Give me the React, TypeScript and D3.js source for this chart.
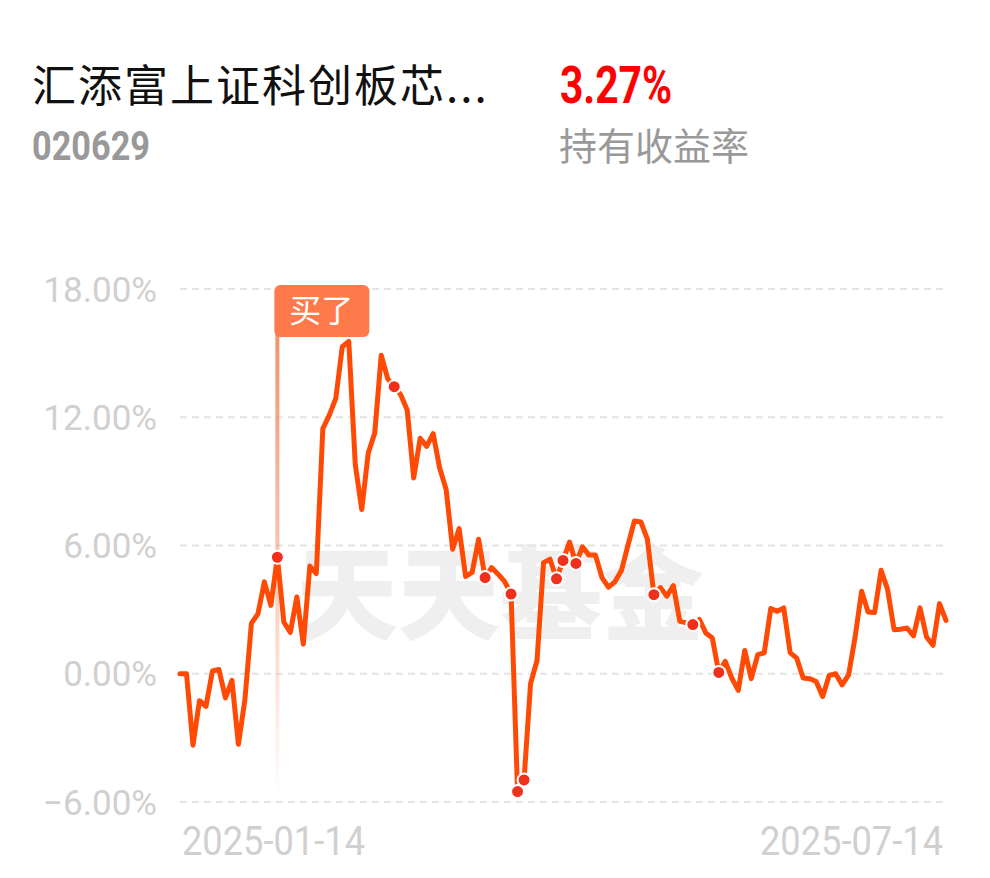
import { useEffect, useRef } from "react";
import * as d3 from "d3";

// holding return (%) per trading day
const returns: number[] = [
  0.0, 0.0, -3.34, -1.26, -1.53, 0.13, 0.2, -1.13, -0.31, -3.3,
  -1.21, 2.36, 2.8, 4.3, 3.2, 5.45, 2.41, 1.94, 3.59, 1.39,
  5.04, 4.69, 11.46, 12.1, 12.88, 15.3, 15.55, 9.8, 7.68, 10.33,
  11.26, 14.9, 13.8, 13.43, 13.05, 12.34, 9.16, 11.02, 10.64, 11.23,
  9.63, 8.62, 5.82, 6.79, 4.55, 4.74, 6.29, 4.5, 4.97, 4.66,
  4.32, 3.73, -5.51, -4.97, -0.47, 0.62, 5.2, 5.36, 4.44, 5.3,
  6.16, 5.16, 5.94, 5.55, 5.55, 4.5, 4.05, 4.3, 4.83, 6.0,
  7.15, 7.1, 6.3, 3.7, 4.03, 3.63, 4.12, 2.45, 2.38, 2.3,
  2.54, 1.91, 1.67, 0.06, 0.58, -0.2, -0.78, 1.09, -0.23, 0.89,
  0.98, 3.05, 2.92, 3.08, 0.98, 0.73, -0.2, -0.23, -0.36, -1.06,
  -0.08, 0.0, -0.52, -0.05, 1.72, 3.86, 2.89, 2.86, 4.84, 3.95,
  2.06, 2.08, 2.14, 1.77, 3.08, 1.72, 1.33, 3.28, 2.5,
];

// indices of the days with a trade dot
const tradeDays: number[] = [15, 33, 47, 51, 52, 53, 58, 59, 61, 73, 79, 83];
const buyDay = 15;

const yTicks: number[] = [18, 12, 6, 0, -6];
const xLabels: string[] = ["2025-01-14", "2025-07-14"];

const fundName = "汇添富上证科创板芯...";
const fundCode = "020629";
const holdReturn = "3.27%";
const holdLabel = "持有收益率";

const App = () => {
  const svgRef = useRef<SVGSVGElement | null>(null);

  useEffect(() => {
    if (!svgRef.current) return;
    const width = 990;
    const height = 878;
    const left = 180;
    const right = 946;

    const svg = d3.select(svgRef.current);
    svg.selectAll("*").remove();
    svg.attr("width", width).attr("height", height);

    const x = d3.scaleLinear().domain([0, returns.length - 1]).range([left, right]);
    const y = d3.scaleLinear().domain([-6, 18]).range([802, 289]);

    const defs = svg.append("defs");
    const grad = defs
      .append("linearGradient")
      .attr("id", "buyGrad")
      .attr("x1", 0).attr("y1", 0).attr("x2", 0).attr("y2", 1);
    grad.append("stop").attr("offset", "0%").attr("stop-color", "#f5906c").attr("stop-opacity", 1);
    grad.append("stop").attr("offset", "100%").attr("stop-color", "#f5906c").attr("stop-opacity", 0);

    // header
    const cjk = "'Noto Sans CJK SC', sans-serif";
    svg.append("text").attr("x", 32).attr("y", 102)
      .attr("font-family", cjk).attr("font-size", 44).attr("letter-spacing", 2)
      .attr("fill", "#111").text(fundName);
    svg.append("text").attr("x", 32).attr("y", 160)
      .attr("font-family", "Roboto, sans-serif").attr("font-weight", 700)
      .attr("font-size", 40).attr("textLength", 118).attr("lengthAdjust", "spacingAndGlyphs")
      .attr("fill", "#999").text(fundCode);
    svg.append("text").attr("x", 560).attr("y", 103)
      .attr("font-family", "Roboto, sans-serif").attr("font-weight", 700)
      .attr("font-size", 52).attr("textLength", 112).attr("lengthAdjust", "spacingAndGlyphs")
      .attr("fill", "#f00").text(holdReturn);
    svg.append("text").attr("x", 559).attr("y", 160)
      .attr("font-family", cjk).attr("font-size", 38)
      .attr("fill", "#999").text(holdLabel);

    // watermark
    svg.append("text").attr("x", 500).attr("y", 632)
      .attr("text-anchor", "middle")
      .attr("font-family", cjk).attr("font-weight", 900)
      .attr("font-size", 102).attr("fill", "#efefef")
      .text("天天基金");

    // grid + y labels
    const grid = svg.append("g");
    grid.selectAll("line")
      .data(yTicks)
      .enter()
      .append("line")
      .attr("x1", left).attr("x2", right)
      .attr("y1", (d) => y(d)).attr("y2", (d) => y(d))
      .attr("stroke", "#e4e4e4").attr("stroke-width", 2)
      .attr("stroke-dasharray", "7 5");
    grid.selectAll("text")
      .data(yTicks)
      .enter()
      .append("text")
      .attr("x", 157).attr("y", (d) => y(d))
      .attr("dy", "0.36em")
      .attr("text-anchor", "end")
      .attr("font-family", "Roboto, sans-serif")
      .attr("font-size", 35).attr("fill", "#d0d0d0")
      .text((d) => d3.format(".2f")(d) + "%");

    // x labels
    svg.selectAll(".xl")
      .data(xLabels)
      .enter()
      .append("text")
      .attr("class", "xl")
      .attr("x", (d, i) => (i === 0 ? x(0) + 2 : x(returns.length - 1) - 3 - 183))
      .attr("y", 855)
      .attr("font-family", "Roboto, sans-serif")
      .attr("font-size", 40)
      .attr("textLength", 183).attr("lengthAdjust", "spacingAndGlyphs")
      .attr("fill", "#d0d0d0")
      .text((d) => d);

    // buy marker
    const bx = x(buyDay);
    svg.append("rect")
      .attr("x", bx - 2).attr("y", 330).attr("width", 4).attr("height", 467)
      .attr("fill", "url(#buyGrad)");
    svg.append("rect")
      .attr("x", bx - 3).attr("y", 285).attr("width", 95).attr("height", 52)
      .attr("rx", 6).attr("fill", "#ff7a4a");
    svg.append("text")
      .attr("x", bx + 44).attr("y", 311).attr("dy", "0.35em")
      .attr("text-anchor", "middle")
      .attr("font-family", cjk).attr("font-size", 32)
      .attr("fill", "#fff").text("买了");

    // line
    const line = d3.line<number>().x((d, i) => x(i)).y((d) => y(d));
    svg.append("path")
      .datum(returns)
      .attr("d", line)
      .attr("fill", "none")
      .attr("stroke", "#ff4a05")
      .attr("stroke-width", 5)
      .attr("stroke-linejoin", "round")
      .attr("stroke-linecap", "round");

    // trade dots
    svg.selectAll(".dot")
      .data(tradeDays)
      .enter()
      .append("circle")
      .attr("class", "dot")
      .attr("cx", (d) => x(d))
      .attr("cy", (d) => y(returns[d]))
      .attr("r", 6.5)
      .attr("fill", "#f0301c")
      .attr("stroke", "#fff")
      .attr("stroke-width", 2);
  }, []);

  return <svg ref={svgRef} style={{ position: "absolute", left: 0, top: 0 }}></svg>;
};

export default App;
